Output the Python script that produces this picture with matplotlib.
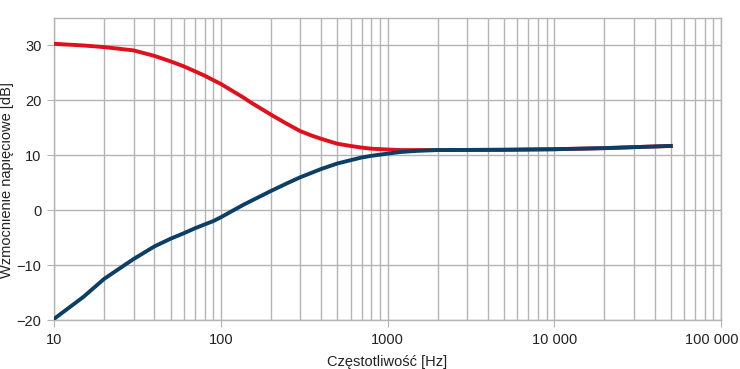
import matplotlib.pyplot as plt
import matplotlib.transforms as mtransforms
from matplotlib.ticker import FixedLocator, LogLocator, NullFormatter

plt.rcParams['font.family'] = ['Liberation Sans', 'DejaVu Sans']

freq = [10, 15, 20, 30, 40, 50, 60, 70, 80, 90, 100, 137, 150, 200, 250, 300,
        350, 400, 500, 600, 700, 800, 1000, 1200, 1500, 2000, 5000, 10000,
        20000, 50000]
gain_red = [30.3, 30.0, 29.7, 29.1, 28.1, 27.1, 26.2, 25.3, 24.5, 23.7, 23.0,
            20.5, 19.7, 17.4, 15.7, 14.4, 13.6, 13.0, 12.1, 11.7, 11.4, 11.2,
            11.05, 10.95, 10.95, 10.95, 11.0, 11.1, 11.3, 11.7]
gain_blue = [-19.8, -15.8, -12.5, -8.9, -6.6, -5.2, -4.2, -3.3, -2.6, -2.0,
             -1.3, 1.0, 1.6, 3.5, 4.9, 6.0, 6.8, 7.5, 8.5, 9.1, 9.6, 9.9, 10.3,
             10.6, 10.8, 10.95, 11.0, 11.1, 11.3, 11.7]

x_ticks = [10, 100, 1000, 10000, 100000]
x_labels = ['10', '100', '1000', '10 000', '100 000']
y_ticks = [-20, -10, 0, 10, 20, 30]
y_labels = ['\u221220', '\u221210', '0', '10', '20', '30']

grid_c = '#b4b4b4'
text_c = '#222222'

fig = plt.figure(figsize=(7.4, 3.69), dpi=100)
ax = fig.add_axes([54 / 740, 49 / 369, (721 - 54) / 740, (320 - 18) / 369])

ax.plot(freq, gain_red, color='#e0101c', linewidth=2.8, zorder=3,
        solid_joinstyle='round')
ax.plot(freq, gain_blue, color='#0b3f66', linewidth=2.8, zorder=4,
        solid_joinstyle='round')

ax.set_xscale('log')
ax.set_xlim(10, 100000)
ax.set_ylim(-20, 35)

ax.xaxis.set_major_locator(FixedLocator(x_ticks))
ax.set_xticklabels(x_labels)
ax.xaxis.set_minor_locator(LogLocator(base=10, subs=range(2, 10), numticks=20))
ax.xaxis.set_minor_formatter(NullFormatter())
ax.set_yticks(y_ticks)
ax.set_yticklabels(y_labels)

ax.grid(True, which='major', color=grid_c, linewidth=1.0)
ax.grid(True, which='minor', axis='x', color=grid_c, linewidth=1.0)
ax.set_axisbelow(True)

for s in ax.spines.values():
    s.set_color(grid_c)
    s.set_linewidth(1.0)

ax.tick_params(axis='both', which='major', length=5, color=grid_c,
               labelsize=10.5, labelcolor=text_c, pad=4)
ax.tick_params(axis='x', which='minor', length=0)

# ostatnia etykieta przesunieta w lewo, zeby sie miescila
last = ax.get_xticklabels()[-1]
last.set_transform(last.get_transform() +
                   mtransforms.ScaledTranslation(-9 / 100, 0, fig.dpi_scale_trans))

ax.set_xlabel('Częstotliwość [Hz]', fontsize=10.5, color=text_c, labelpad=6)
fig.text(7 / 740, 1 - 180 / 369, 'Wzmocnienie napięciowe [dB]', rotation=90,
         ha='center', va='center', fontsize=10.5, color=text_c)

fig.savefig('out.png', dpi=100)
